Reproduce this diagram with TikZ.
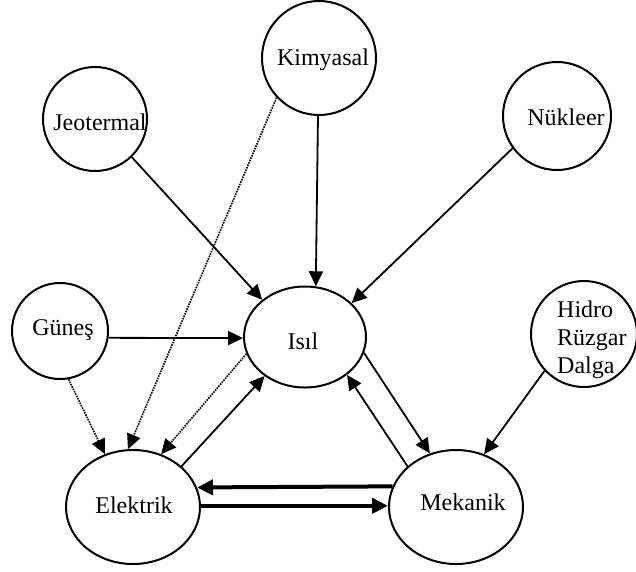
\documentclass[tikz,border=0pt]{standalone}
\usepackage{fontspec}
\setmainfont{Liberation Serif}
\usetikzlibrary{shapes.geometric,arrows.meta}

\begin{document}
\begin{tikzpicture}[x=1pt, y=-1pt,
    kaynak/.style={draw, ellipse, line width=2pt, inner sep=0pt},
    yazi/.style={inner sep=0pt, font=\fontsize{24}{28}\selectfont},
    akis/.style={line width=1.8pt, -{Triangle[length=15pt,width=14pt]}},
    zayif/.style={line width=1.6pt, densely dotted, -{Triangle[length=15pt,width=14pt]}},
    kalin/.style={line width=4pt, -{Triangle[length=16pt,width=15pt]}}]
    \useasboundingbox (0,0) rectangle (636,571);
    % draw circles
    \node[kaynak, minimum width=114pt, minimum height=114pt] (kim) at (319,58) {};
    \node[kaynak, minimum width=104pt, minimum height=104pt] (jeo) at (95,119) {};
    \node[kaynak, minimum width=108pt, minimum height=108pt] (nuk) at (557,116) {};
    \node[kaynak, minimum width=96pt, minimum height=96pt] (gun) at (60,331) {};
    \node[kaynak, minimum width=122pt, minimum height=101pt] (isil) at (305,337) {};
    \node[kaynak, minimum width=106pt, minimum height=106pt] (hid) at (584,334) {};
    \node[kaynak, minimum width=134pt, minimum height=114pt] (ele) at (133,507) {};
    \node[kaynak, minimum width=134pt, minimum height=114pt] (mek) at (456,507) {};
    % texts
    \node[yazi, anchor=base] (kimT) at (323,65) {Kimyasal};
    \node[yazi, anchor=base] (jeoT) at (100,130) {Jeotermal};
    \node[yazi, anchor=base] (nukT) at (566,125) {Nükleer};
    \node[yazi, anchor=base] (gunT) at (63,335) {Güneş};
    \node[yazi, anchor=base] (isilT) at (303,349) {Isıl};
    \node[yazi, anchor=north west, align=left] (hidT) at (557,301) {Hidro\\Rüzgar\\Dalga};
    \node[yazi, anchor=base] (eleT) at (134,513) {Elektrik};
    \node[yazi, anchor=base] (mekT) at (463,510) {Mekanik};
    % draw arrows
    \draw[akis] (jeo.-46.5) -- (isil.139.7);
    \draw[akis] (kim.-91) -- (isil.78);
    \draw[akis] (nuk.-144) -- (isil.36.5);
    \draw[akis] (gun.-8.3) -- (isil.181);
    \draw[zayif] (gun.-80) -- (ele.118);
    \draw[zayif] (kim.-137) -- (ele.95);
    \draw[zayif] (isil.-164.5) -- (ele.62);
    \draw[akis] (ele.40) -- (isil.-136);
    \draw[akis] (isil.-15) -- (mek.116.6);
    \draw[akis] (mek.140) -- (isil.-42.6);
    \draw[akis] (hid.-137) -- (mek.62);
    \draw[kalin] (mek.162.3) -- (ele.17.7);
    \draw[kalin] (ele.1) -- (mek.179);
\end{tikzpicture}
\end{document}
